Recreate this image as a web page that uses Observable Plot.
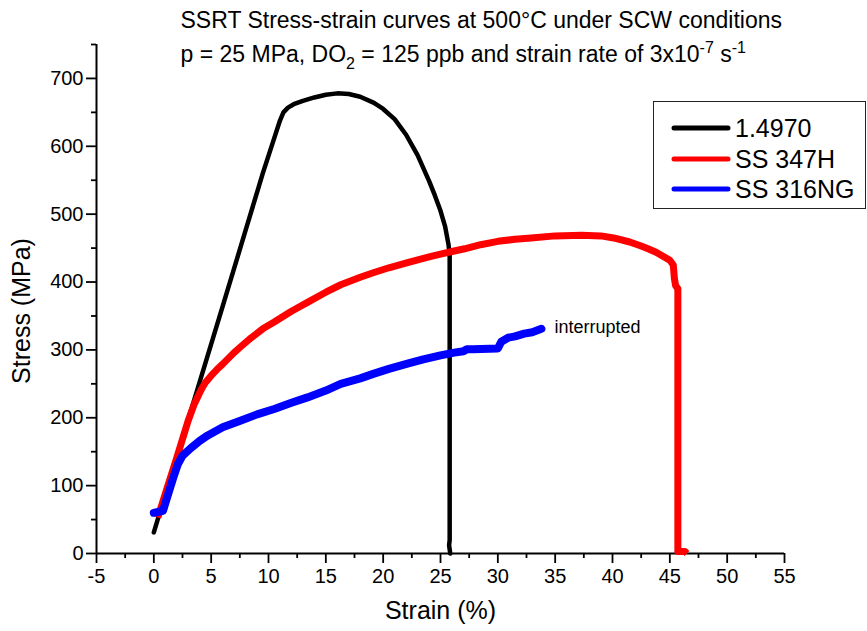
<!DOCTYPE html>
<html>
<head>
<meta charset="utf-8">
<script src="https://cdn.jsdelivr.net/npm/d3@7"></script>
<script src="https://cdn.jsdelivr.net/npm/@observablehq/plot@0.6"></script>
<style>
  html, body { margin: 0; padding: 0; background: #fff; }
  body { font-family: "Liberation Sans", Arial, sans-serif; }
  #wrap { position: relative; width: 867px; height: 631px; overflow: hidden; }
  #legend { position: absolute; left: 653px; top: 101px; width: 213px; height: 108px;
            border: 1.5px solid #222; box-sizing: border-box; background: #fff; }
  .lrow { position: absolute; left: 0; height: 30px; display: flex; align-items: center; }
  .lrow svg { margin-left: 17px; }
  .lrow span { font-size: 25px; color: #000; margin-left: 4px; line-height: 30px; }
</style>
</head>
<body>
<div id="wrap"></div>
<script>
// ---- Data ----
const seriesNames = ["1.4970", "SS 347H", "SS 316NG"];
const seriesColors = ["#000000", "#ff0000", "#0000ff"];

const strain14970 = [0, 0.5, 2, 4, 6, 8, 9.5, 10.5, 11, 11.3, 11.7, 12.2, 13, 14, 15, 16, 17, 18, 19.2, 20, 21, 22, 23, 24, 24.5, 25, 25.4, 25.7, 25.8, 25.8, 25.75, 25.85];
const stress14970 = [31, 59, 142, 253, 364, 476, 560, 612, 638, 650, 657, 662, 667, 672, 676, 678, 677, 673, 664, 655, 640, 617, 587, 549, 528, 505, 482, 455, 440, 20, 12, 0];

const strain347H = [0.35, 1, 2, 3, 3.5, 4, 4.25, 4.5, 5, 5.5, 6, 7, 7.6, 8.5, 9.5, 10.5, 12, 13.4, 15, 16.3, 18, 19.2, 20.5, 22.2, 24, 25, 26, 27.1, 28.5, 30, 31.5, 32.9, 35, 37.3, 39, 40.1, 41.5, 42.5, 43.1, 43.8, 44.4, 45.0, 45.3, 45.4, 45.5, 45.7, 45.7, 46.3, 46.5];
const stress347H = [53, 88, 141, 196, 219, 237, 245, 252, 262, 271, 279, 296, 305, 318, 331, 341, 357, 370, 385, 396, 407, 414, 421, 429, 437, 441, 445, 449, 455, 460, 463, 465, 468, 469, 468, 465, 459, 453, 449, 444, 438, 432, 425, 405, 395, 390, 3, 3, 0];

const strain316NG = [0, 0.8, 1.2, 1.7, 2.1, 2.5, 3.2, 4, 4.7, 6, 7.6, 9, 10.5, 12, 13.4, 15, 16.3, 18, 19.2, 20.5, 22.2, 23.5, 25, 26.2, 27.0, 27.3, 27.8, 30.0, 30.3, 30.9, 31.5, 32.3, 33, 33.8];
const stress316NG = [60, 63, 85, 112, 132, 144, 155, 166, 174, 186, 196, 205, 213, 222, 230, 240, 250, 258, 265, 272, 280, 286, 292, 296, 298, 301, 301, 302, 312, 318, 320, 324, 326, 331];

const xTicks = [-5, 0, 5, 10, 15, 20, 25, 30, 35, 40, 45, 50, 55];
const xMinorTicks = [-2.5, 2.5, 7.5, 12.5, 17.5, 22.5, 27.5, 32.5, 37.5, 42.5, 47.5, 52.5];
const yTicks = [0, 100, 200, 300, 400, 500, 600, 700];
const yMinorTicks = [50, 150, 250, 350, 450, 550, 650, 750];

const titleLine1 = "SSRT Stress-strain curves at 500°C under SCW conditions";
const subtitleParts = [
  {t: "p = 25 MPa, DO", k: ""}, {t: "2", k: "sub"},
  {t: " = 125 ppb and strain rate of 3x10", k: ""}, {t: "-7", k: "sup"},
  {t: " s", k: ""}, {t: "-1", k: "sup"}
];
const titleLine2 = subtitleParts.map(p => p.t).join("");
const xLabel = "Strain (%)";
const yLabel = "Stress (MPa)";
const annotation = "interrupted";

// ---- Build tables ----
const toRows = (xs, ys) => xs.map((x, i) => ({strain: x, stress: ys[i]}));
const rowsBlack = toRows(strain14970, stress14970);
const rowsRed = toRows(strain347H, stress347H);
const rowsBlue = toRows(strain316NG, stress316NG);
const lastBlue = rowsBlue[rowsBlue.length - 1];

const font = "Liberation Sans, Arial, sans-serif";

const chart = Plot.plot({
  width: 867,
  height: 631,
  marginLeft: 96,
  marginRight: 83,
  marginTop: 44,
  marginBottom: 78,
  style: {fontFamily: font, background: "#fff", color: "#000", overflow: "visible"},
  x: {domain: [-5, 55]},
  y: {domain: [0, 750]},
  marks: [
    Plot.axisX({ticks: xTicks, tickSize: 10, tickPadding: 5, fontSize: 20, strokeWidth: 1.8, label: null, tickFormat: d => String(d)}),
    Plot.axisX({ticks: xMinorTicks, tickSize: 5, fill: "none", strokeWidth: 1.8, label: null}),
    Plot.axisY({ticks: yTicks, tickSize: 10, tickPadding: 3, fontSize: 20, strokeWidth: 1.8, label: null, tickFormat: d => String(d)}),
    Plot.axisY({ticks: yMinorTicks, tickSize: 5, fill: "none", strokeWidth: 1.8, label: null}),
    Plot.ruleX([-5], {stroke: "#000", strokeWidth: 2}),
    Plot.ruleY([0], {stroke: "#000", strokeWidth: 2}),
    Plot.line(rowsBlack, {x: "strain", y: "stress", stroke: seriesColors[0], strokeWidth: 4.5, strokeLinejoin: "round", strokeLinecap: "round"}),
    Plot.line(rowsRed, {x: "strain", y: "stress", stroke: seriesColors[1], strokeWidth: 7, strokeLinejoin: "round", strokeLinecap: "butt"}),
    Plot.line(rowsBlue, {x: "strain", y: "stress", stroke: seriesColors[2], strokeWidth: 8, strokeLinejoin: "round", strokeLinecap: "round"}),
    Plot.text([lastBlue], {x: "strain", y: "stress", text: () => annotation, textAnchor: "start", dx: 13, dy: -2, fontSize: 18, fill: "#000"}),
    Plot.text([xLabel], {frameAnchor: "bottom", lineAnchor: "middle", dy: 57, fontSize: 25, fill: "#000"}),
    Plot.text([yLabel], {frameAnchor: "left", textAnchor: "middle", lineAnchor: "middle", dx: -75, dy: 12, rotate: -90, fontSize: 25, fill: "#000"}),
    Plot.text([titleLine1], {frameAnchor: "top-left", textAnchor: "start", lineAnchor: "middle", dx: 84, dy: -24, fontSize: 23, fill: "#000"}),
    Plot.text([titleLine2], {frameAnchor: "top-left", textAnchor: "start", lineAnchor: "middle", dx: 84, dy: 10, fontSize: 23, fill: "#000"})
  ]
});

// Rich text for subtitle (sub/superscripts)
const ns = "http://www.w3.org/2000/svg";
const subEl = Array.from(chart.querySelectorAll("text")).find(t => t.textContent === titleLine2);
if (subEl) {
  subEl.textContent = "";
  let shift = 0;
  subtitleParts.forEach(p => {
    const ts = document.createElementNS(ns, "tspan");
    ts.textContent = p.t;
    const target = p.k === "sub" ? 7 : p.k === "sup" ? -9 : 0;
    ts.setAttribute("dy", String(target - shift));
    shift = target;
    if (p.k) ts.setAttribute("font-size", "16");
    subEl.appendChild(ts);
  });
}

const wrap = document.getElementById("wrap");
wrap.appendChild(chart);

// Legend
const legend = document.createElement("div");
legend.id = "legend";
seriesNames.forEach((name, i) => {
  const row = document.createElement("div");
  row.className = "lrow";
  row.style.top = (11 + i * 30.5) + "px";
  row.innerHTML = `<svg width="60" height="10"><line x1="3" y1="5" x2="57" y2="5" stroke="${seriesColors[i]}" stroke-width="5" stroke-linecap="round"/></svg><span>${name}</span>`;
  legend.appendChild(row);
});
wrap.appendChild(legend);
</script>
</body>
</html>
